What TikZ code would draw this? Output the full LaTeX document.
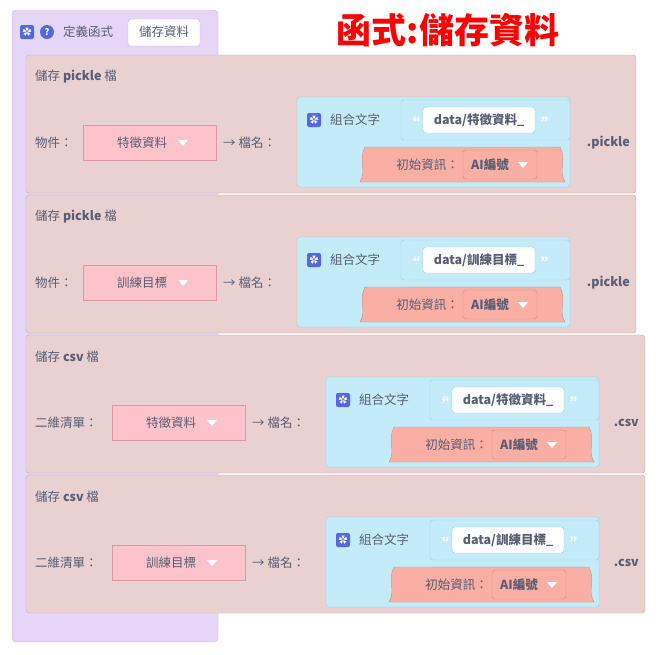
\documentclass[tikz,border=0pt]{standalone}
\usepackage{fontspec}
\setmainfont{Noto Sans CJK TC}
\newfontfamily\titlefont{Noto Sans CJK TC}
\definecolor{txt}{HTML}{575E75}
\definecolor{purp}{HTML}{E5D6F5}
\definecolor{purpline}{HTML}{C6B1DE}
\definecolor{blk}{HTML}{E9D0D1}
\definecolor{blkline}{HTML}{C9ABAD}
\definecolor{fld}{HTML}{FDC3CA}
\definecolor{fldline}{HTML}{D99AA3}
\definecolor{joinc}{HTML}{C4ECF8}
\definecolor{joinline}{HTML}{98CDE0}
\definecolor{salm}{HTML}{F9AFA4}
\definecolor{salmline}{HTML}{D98A80}
\definecolor{gear}{HTML}{5468E0}
\tikzset{
  lbl/.style={font=\fontsize{12.5}{14}\selectfont, text=txt, inner sep=0pt},
  blabel/.style={lbl, font=\fontsize{12.5}{14}\selectfont\bfseries},
  icon/.style={fill=gear, rounded corners=2pt, minimum size=14pt, inner sep=0pt,
    text=white, font=\fontsize{9}{9}\selectfont\bfseries}
}
% #1 top y, #2 x shift, #3 file kind, #4 label, #5 field, #6 data text, #7 right edge
\newcommand{\fileblock}[7]{%
  \begin{scope}[shift={(0,#1)}]
    \draw[blkline, fill=blk, rounded corners=3pt] (26,0) rectangle (#7,138);
    \node[lbl, anchor=west] (ttl#1) at (35,22) {儲存 \textbf{#3} 檔};
    \node[lbl, anchor=west] (lab#1) at (35,88) {#4};
    \path[draw=fldline, fill=fld] (83+#2,70) rectangle (216+#2,105);
    \node[lbl] (fld#1) at (142+#2,88) {#5};
    \fill[white] (178+#2,85) -- (188+#2,85) -- (183+#2,91) -- cycle;
    \node[lbl, anchor=west] (arw#1) at (223+#2,88) {→ 檔名：};
    \draw[joinline, fill=joinc, rounded corners=3pt] (297+#2,42) rectangle (570+#2,132);
    \node[icon] (gear#1) at (314+#2,65) {✿};
    \node[lbl, anchor=west] (join#1) at (330+#2,65) {組合文字};
    \draw[joinline, fill=joinc, rounded corners=3pt] (401+#2,45) rectangle (570+#2,85);
    \node[lbl, text=white, font=\fontsize{16}{16}\selectfont\bfseries] (qa#1) at (412+#2,69) {“};
    \node[lbl, text=white, font=\fontsize{16}{16}\selectfont\bfseries] (qb#1) at (549+#2,69) {”};
    \draw[joinline, fill=white, rounded corners=3pt] (423+#2,52) rectangle (535+#2,78);
    \node[blabel] (data#1) at (479+#2,65) {#6};
    \draw[salmline, fill=salm] (365+#2,92) .. controls (358+#2,105) and (367+#2,115) .. (360+#2,127)
      -- (565+#2,127) .. controls (558+#2,115) and (567+#2,105) .. (560+#2,92) -- cycle;
    \node[lbl, anchor=east] (init#1) at (459+#2,110) {初始資訊：};
    \draw[salmline, fill=salm, rounded corners=3pt] (463+#2,95) rectangle (537+#2,124);
    \node[blabel] (ai#1) at (490+#2,110) {AI編號};
    \fill[white] (518+#2,107) -- (528+#2,107) -- (523+#2,113) -- cycle;
    \node[blabel, anchor=east] (ext#1) at (#7-6,88) {.#3};
  \end{scope}}
\begin{document}
\begin{tikzpicture}[x=1pt, y=-1pt]
  \useasboundingbox (0,0) rectangle (658,654);
  \fill[white] (0,0) rectangle (658,654);
  % function block
  \draw[purpline, fill=purp, rounded corners=4pt] (12,10) -- (218,10) -- (218,642) -- (12,642) -- cycle;
  \node[icon] (gearf) at (27,32) {✿};
  \node[icon, circle] (help) at (47,32) {?};
  \node[lbl, anchor=west] (deff) at (63,32) {定義函式};
  \draw[purpline, fill=white, rounded corners=3pt] (128,19) rectangle (200,46);
  \node[lbl] (fname) at (164,32) {儲存資料};
  \node[text=red, font=\titlefont\fontsize{35}{37}\selectfont\bfseries] (title) at (448,30) {函式:儲存資料};
  % save blocks
  \fileblock{55}{0}{pickle}{物件：}{特徵資料}{data/特徵資料\_}{636}
  \fileblock{195}{0}{pickle}{物件：}{訓練目標}{data/訓練目標\_}{636}
  \fileblock{335}{29}{csv}{二維清單：}{特徵資料}{data/特徵資料\_}{645}
  \fileblock{475}{29}{csv}{二維清單：}{訓練目標}{data/訓練目標\_}{645}
\end{tikzpicture}
\end{document}
